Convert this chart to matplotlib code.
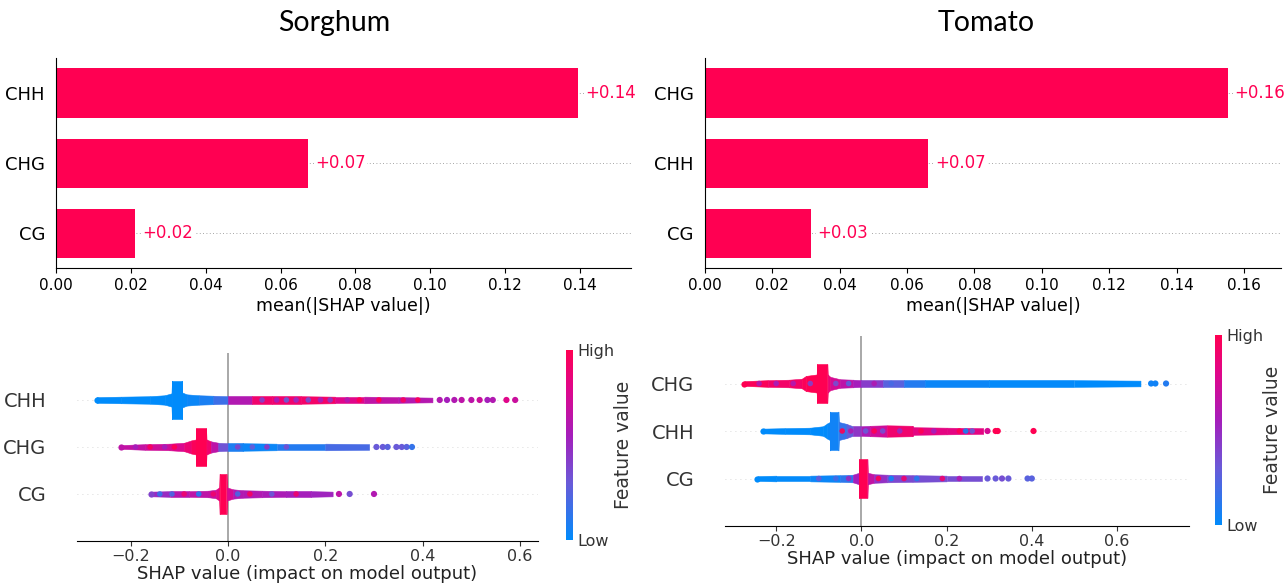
import matplotlib
matplotlib.use("Agg")
import matplotlib.pyplot as plt
from matplotlib.colors import LinearSegmentedColormap
from matplotlib.cm import ScalarMappable

# mean(|SHAP value|) per feature, top row listed first
sorghum_feats = ["CHH", "CHG", "CG"]
sorghum_mean_abs = [0.1395, 0.0674, 0.0212]
tomato_feats = ["CHG", "CHH", "CG"]
tomato_mean_abs = [0.1552, 0.0662, 0.0314]

# beeswarm outlines: SHAP value knots, half-width of the swarm, feature value (0 low .. 1 high)
sorg_chh_x = [-0.27, -0.22, -0.16, -0.13, -0.116, -0.115, -0.095, -0.094, -0.085, -0.06, -0.03, 0.0, 0.05, 0.09, 0.15, 0.22, 0.28, 0.35, 0.42]
sorg_chh_h = [0.06, 0.07, 0.08, 0.10, 0.14, 0.41, 0.41, 0.16, 0.12, 0.10, 0.09, 0.08, 0.08, 0.08, 0.08, 0.07, 0.07, 0.06, 0.05]
sorg_chh_c = [0.0, 0.0, 0.0, 0.0, 0.0, 0.0, 0.0, 0.0, 0.02, 0.05, 0.1, 0.25, 0.95, 0.85, 0.95, 0.9, 0.7, 0.62, 0.6]
sorg_chh_dot_x = [0.435, 0.45, 0.465, 0.48, 0.50, 0.517, 0.533, 0.544, 0.572, 0.59]
sorg_chh_dot_c = [0.6, 0.55, 0.6, 0.65, 0.65, 0.7, 0.55, 0.6, 0.8, 0.7]
sorg_chh_mix_x = [0.07, 0.10, 0.12, 0.14, 0.165, 0.19, 0.21, 0.245, 0.27, 0.31, 0.36, 0.39]
sorg_chh_mix_c = [0.4, 0.55, 0.3, 0.5, 0.35, 0.55, 0.45, 0.6, 1.0, 1.0, 0.95, 1.0]

sorg_chg_x = [-0.22, -0.17, -0.12, -0.09, -0.075, -0.066, -0.065, -0.045, -0.044, -0.035, -0.02, 0.0, 0.03, 0.1, 0.2, 0.29]
sorg_chg_h = [0.04, 0.06, 0.07, 0.09, 0.14, 0.16, 0.40, 0.40, 0.16, 0.12, 0.09, 0.08, 0.08, 0.07, 0.07, 0.06]
sorg_chg_c = [0.65, 0.7, 0.75, 0.8, 0.95, 1.0, 1.0, 1.0, 1.0, 0.8, 0.5, 0.15, 0.02, 0.05, 0.15, 0.25]
sorg_chg_dot_x = [0.305, 0.318, 0.328, 0.346, 0.357, 0.367, 0.378]
sorg_chg_dot_c = [0.3, 0.3, 0.25, 0.3, 0.3, 0.25, 0.15]
sorg_chg_mix_x = [-0.19, -0.16, -0.13, -0.11, 0.02, 0.05, 0.08, 0.12]
sorg_chg_mix_c = [0.55, 0.95, 0.55, 1.0, 0.4, 0.3, 0.45, 0.35]

sorg_cg_x = [-0.158, -0.12, -0.08, -0.04, -0.025, -0.018, -0.017, -0.003, -0.002, 0.01, 0.03, 0.07, 0.12, 0.17, 0.215]
sorg_cg_h = [0.05, 0.06, 0.06, 0.07, 0.09, 0.14, 0.43, 0.43, 0.14, 0.10, 0.08, 0.07, 0.06, 0.06, 0.05]
sorg_cg_c = [0.4, 0.6, 0.65, 0.65, 0.7, 0.9, 1.0, 1.0, 0.9, 0.6, 0.6, 0.6, 0.55, 0.55, 0.5]
sorg_cg_dot_x = [0.228, 0.25, 0.30]
sorg_cg_dot_c = [0.65, 0.35, 0.6]
sorg_cg_mix_x = [-0.14, -0.115, -0.09, -0.06, -0.03, 0.02, 0.045, 0.09, 0.14]
sorg_cg_mix_c = [0.15, 0.2, 0.9, 0.1, 0.9, 0.2, 0.95, 0.3, 0.9]

tom_chg_x = [-0.275, -0.22, -0.17, -0.14, -0.13, -0.105, -0.104, -0.08, -0.079, -0.073, -0.05, -0.02, 0.0, 0.05, 0.1, 0.15, 0.3, 0.5, 0.655]
tom_chg_h = [0.05, 0.07, 0.08, 0.10, 0.16, 0.19, 0.41, 0.41, 0.19, 0.14, 0.09, 0.08, 0.07, 0.07, 0.07, 0.07, 0.07, 0.07, 0.06]
tom_chg_c = [1.0, 0.95, 0.9, 0.95, 1.0, 1.0, 1.0, 1.0, 0.95, 0.8, 0.7, 0.6, 0.5, 0.35, 0.15, 0.05, 0.02, 0.0, 0.0]
tom_chg_dot_x = [0.68, 0.69, 0.715]
tom_chg_dot_c = [0.05, 0.05, 0.1]
tom_chg_mix_x = [-0.24, -0.2, -0.16, -0.12, -0.06, -0.03, 0.03, 0.07]
tom_chg_mix_c = [0.6, 0.55, 0.6, 0.4, 0.35, 0.25, 0.6, 0.2]

tom_chh_x = [-0.23, -0.18, -0.12, -0.09, -0.08, -0.074, -0.073, -0.054, -0.053, -0.035, -0.02, 0.0, 0.02, 0.06, 0.12, 0.121, 0.2, 0.286]
tom_chh_h = [0.05, 0.06, 0.07, 0.10, 0.16, 0.19, 0.41, 0.41, 0.19, 0.15, 0.10, 0.10, 0.11, 0.12, 0.11, 0.08, 0.07, 0.06]
tom_chh_c = [0.0, 0.0, 0.0, 0.0, 0.0, 0.05, 0.05, 0.05, 0.1, 0.2, 0.35, 0.55, 0.6, 0.85, 0.95, 0.8, 0.85, 0.8]
tom_chh_dot_x = [0.296, 0.315, 0.32, 0.404]
tom_chh_dot_c = [0.75, 1.0, 1.0, 1.0]
tom_chh_mix_x = [-0.045, -0.025, 0.01, 0.03, 0.05, 0.09, 0.14, 0.17, 0.23, 0.245, 0.26]
tom_chh_mix_c = [1.0, 0.6, 0.3, 1.0, 0.35, 0.5, 1.0, 0.55, 1.0, 0.05, 0.3]

tom_cg_x = [-0.244, -0.2, -0.12, -0.05, -0.02, -0.006, -0.005, 0.014, 0.015, 0.03, 0.06, 0.12, 0.2, 0.284]
tom_cg_h = [0.05, 0.06, 0.06, 0.07, 0.08, 0.12, 0.41, 0.41, 0.12, 0.09, 0.08, 0.07, 0.06, 0.06]
tom_cg_c = [0.0, 0.0, 0.02, 0.05, 0.2, 0.9, 1.0, 1.0, 0.8, 0.55, 0.4, 0.35, 0.35, 0.35]
tom_cg_dot_x = [0.296, 0.315, 0.33, 0.345, 0.39, 0.40]
tom_cg_dot_c = [0.3, 0.3, 0.35, 0.3, 0.25, 0.25]
tom_cg_mix_x = [-0.1, -0.06, -0.03, 0.04, 0.07, 0.1, 0.13, 0.19, 0.23]
tom_cg_mix_c = [0.3, 0.2, 0.5, 1.0, 0.05, 0.9, 0.1, 0.9, 0.6]

RED = "#ff0052"
red_blue = LinearSegmentedColormap.from_list(
    "red_blue",
    [(0.0, "#008bfb"), (0.3, "#6a5ad8"), (0.55, "#a51ebb"), (0.8, "#e0068a"), (1.0, "#ff0052")],
)


def bar_panel(ax, feats, vals, xmax, xticks):
    ypos = list(range(len(feats)))[::-1]
    for y in ypos:
        ax.axhline(y, color="#888888", lw=0.6, dashes=(1, 3), zorder=-1)
    ax.barh(ypos, vals, height=0.7, color=RED, zorder=2)
    for y, v in zip(ypos, vals):
        ax.annotate("+%.2f" % v, (v, y), xytext=(5, 0), textcoords="offset points",
                    va="center", ha="left", color=RED, fontsize=12,
                    bbox=dict(facecolor="white", edgecolor="none", pad=1))
    ax.set_yticks(ypos)
    ax.set_yticklabels(feats, fontsize=13)
    ax.set_xlim(0, xmax)
    ax.set_ylim(-0.5, 2.5)
    ax.set_xticks(xticks)
    ax.set_xticklabels(["%.2f" % t for t in xticks], fontsize=11)
    ax.set_xlabel("mean(|SHAP value|)", fontsize=12.5, labelpad=3)
    ax.tick_params(axis="y", length=0, pad=8)
    ax.spines["top"].set_visible(False)
    ax.spines["right"].set_visible(False)


def swarm_row(ax, y, xs, hs, cs, dot_x, dot_c, mix_x, mix_c):
    for i in range(len(xs) - 1):
        ax.fill_between([xs[i], xs[i + 1]], [y - hs[i], y - hs[i + 1]],
                        [y + hs[i], y + hs[i + 1]],
                        color=red_blue((cs[i] + cs[i + 1]) / 2), lw=0.4, zorder=3)
    ax.scatter([xs[0]], [y], s=20, color=red_blue(cs[0]), lw=0, zorder=3)
    ax.scatter(dot_x, [y] * len(dot_x), c=dot_c, cmap=red_blue, vmin=0, vmax=1,
               s=20, lw=0, zorder=3)
    # single points of a different feature value scattered through the swarm
    ax.scatter(mix_x, [y] * len(mix_x), c=mix_c, cmap=red_blue, vmin=0, vmax=1,
               s=16, lw=0, alpha=0.9, zorder=4)


def swarm_panel(ax, feats, rows, xlim):
    ypos = list(range(len(feats)))[::-1]
    for y in ypos:
        ax.axhline(y, color="#cccccc", lw=0.6, dashes=(1, 5), zorder=-1)
    ax.axvline(0, color="#999999", lw=1.2, zorder=-1)
    for y, row in zip(ypos, rows):
        swarm_row(ax, y, *row)
    ax.set_xlim(*xlim)
    ax.set_ylim(-1, len(feats))
    ax.set_yticks(ypos)
    ax.set_yticklabels(feats, fontsize=14)
    ax.set_xticks([-0.2, 0.0, 0.2, 0.4, 0.6])
    ax.tick_params(axis="y", length=0, pad=22, labelcolor="#333333")
    ax.tick_params(axis="x", labelsize=11.5, labelcolor="#333333", color="#333333", pad=2)
    ax.set_xlabel("SHAP value (impact on model output)", fontsize=13, color="#222222", labelpad=1)
    for s in ("top", "right", "left"):
        ax.spines[s].set_visible(False)


def colorbar(fig, cax):
    cb = fig.colorbar(ScalarMappable(cmap=red_blue), cax=cax, ticks=[0, 1])
    cb.set_ticklabels(["Low", "High"])
    cb.outline.set_visible(False)
    cb.ax.tick_params(length=0, labelsize=11.5, pad=3, labelcolor="#333333")
    cb.set_label("Feature value", fontsize=13.5, labelpad=0, color="#333333")


fig = plt.figure(figsize=(12.86, 5.87), dpi=100)

ax1 = fig.add_axes([0.0436, 0.5434, 0.4468, 0.3578])
bar_panel(ax1, sorghum_feats, sorghum_mean_abs, 0.1536, [0, 0.02, 0.04, 0.06, 0.08, 0.10, 0.12, 0.14])
ax2 = fig.add_axes([0.5482, 0.5434, 0.4479, 0.3578])
bar_panel(ax2, tomato_feats, tomato_mean_abs, 0.171, [0, 0.02, 0.04, 0.06, 0.08, 0.10, 0.12, 0.14, 0.16])

fig.text(334 / 1286, 1 - 23 / 587, "Sorghum", fontsize=20.5, family="Lato", ha="center", va="center")
fig.text(986 / 1286, 1 - 23 / 587, "Tomato", fontsize=20.5, family="Lato", ha="center", va="center")

ax3 = fig.add_axes([0.0599, 0.0784, 0.3585, 0.3203])
swarm_panel(ax3, sorghum_feats, [
    (sorg_chh_x, sorg_chh_h, sorg_chh_c, sorg_chh_dot_x, sorg_chh_dot_c, sorg_chh_mix_x, sorg_chh_mix_c),
    (sorg_chg_x, sorg_chg_h, sorg_chg_c, sorg_chg_dot_x, sorg_chg_dot_c, sorg_chg_mix_x, sorg_chg_mix_c),
    (sorg_cg_x, sorg_cg_h, sorg_cg_c, sorg_cg_dot_x, sorg_cg_dot_c, sorg_cg_mix_x, sorg_cg_mix_c),
], (-0.310, 0.637))
ax4 = fig.add_axes([0.5638, 0.1039, 0.3608, 0.3237])
swarm_panel(ax4, tomato_feats, [
    (tom_chg_x, tom_chg_h, tom_chg_c, tom_chg_dot_x, tom_chg_dot_c, tom_chg_mix_x, tom_chg_mix_c),
    (tom_chh_x, tom_chh_h, tom_chh_c, tom_chh_dot_x, tom_chh_dot_c, tom_chh_mix_x, tom_chh_mix_c),
    (tom_cg_x, tom_cg_h, tom_cg_c, tom_cg_dot_x, tom_cg_dot_c, tom_cg_mix_x, tom_cg_mix_c),
], (-0.32, 0.769))

colorbar(fig, fig.add_axes([0.4401, 0.0801, 0.0054, 0.3237]))
colorbar(fig, fig.add_axes([0.9448, 0.1056, 0.0054, 0.3237]))

fig.savefig("out.png", dpi=100)
